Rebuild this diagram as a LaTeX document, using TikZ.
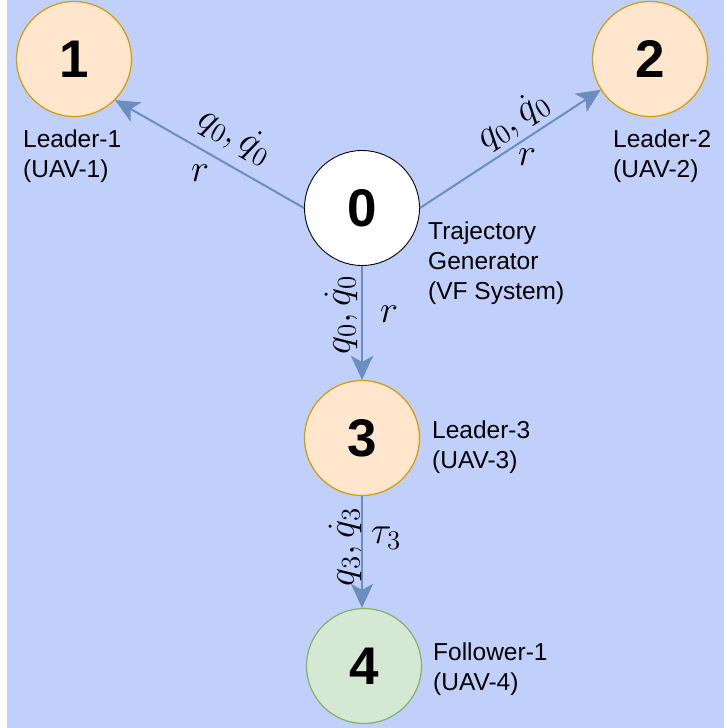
\RequirePackage{fix-cm}
\documentclass[tikz,border=0pt]{standalone}
\usepackage{fontspec}
\setmainfont{Liberation Sans}
\usetikzlibrary{arrows.meta}

\definecolor{bgblue}{RGB}{192,208,251}
\definecolor{orfill}{RGB}{255,230,204}
\definecolor{orline}{RGB}{215,155,0}
\definecolor{grfill}{RGB}{213,232,212}
\definecolor{grline}{RGB}{130,179,102}
\definecolor{edgeblue}{RGB}{108,142,191}

\tikzset{
  uav/.style={circle, minimum size=115pt, inner sep=0pt, line width=1.2pt,
    font=\fontsize{53}{60}\selectfont\bfseries},
  leader/.style={uav, draw=orline, fill=orfill},
  follower/.style={uav, draw=grline, fill=grfill},
  generator/.style={uav, draw=black, fill=white, line width=0.9pt},
  % anchored at the baseline of the last line
  caption/.style={anchor=base west, inner sep=0pt, align=left,
    font=\fontsize{24.5}{30}\selectfont},
  link/.style={draw=edgeblue, line width=2pt,
    -{Stealth[length=24pt,width=22pt,inset=6pt]}},
  mathlbl/.style={inner sep=0pt, scale=1.6, transform shape,
    font=\fontsize{24}{29}\selectfont}
}

\begin{document}
\begin{tikzpicture}[x=1pt,y=-1pt]
  \useasboundingbox (0,0) rectangle (724,728);
  \fill[bgblue] (7,0) rectangle (724,728);

  % agents
  \node[generator] (n0) at (362,208) {0};
  \node[leader]    (n1) at (74,59)   {1};
  \node[leader]    (n2) at (650,59)  {2};
  \node[leader]    (n3) at (362,438) {3};
  \node[follower]  (n4) at (364,666) {4};

  % captions
  \node[caption] (c1) at (23,177)  {Leader-1\\(UAV-1)};
  \node[caption] (c2) at (613,177) {Leader-2\\(UAV-2)};
  \node[caption] (c0) at (428,299) {Trajectory\\Generator\\(VF System)};
  \node[caption] (c3) at (432,468) {Leader-3\\(UAV-3)};
  \node[caption] (c4) at (433,690) {Follower-1\\(UAV-4)};

  % information flow
  \draw[link] (n0.west)  -- (n1.-45);
  \draw[link] (n0.east)  -- (n2.212);
  \draw[link] (n0.south) -- (n3.north);
  \draw[link] (n3.south) -- (n4.north -| n3.south);

  % edge labels
  \node[mathlbl, rotate=-29.6] (l1a) at (235,136) {$q_0,\dot q_0$};
  \node[mathlbl]               (l1b) at (200,173) {$r$};
  \node[mathlbl, rotate=33]    (l2a) at (513,121) {$q_0,\dot q_0$};
  \node[mathlbl]               (l2b) at (527,157) {$r$};
  \node[mathlbl, rotate=90]    (l3a) at (341,315) {$q_0,\dot q_0$};
  \node[mathlbl]               (l3b) at (389,314) {$r$};
  \node[mathlbl, rotate=90]    (l4a) at (345,547) {$q_3,\dot q_3$};
  \node[mathlbl]               (l4b) at (386,538) {$\tau_3$};
\end{tikzpicture}
\end{document}
